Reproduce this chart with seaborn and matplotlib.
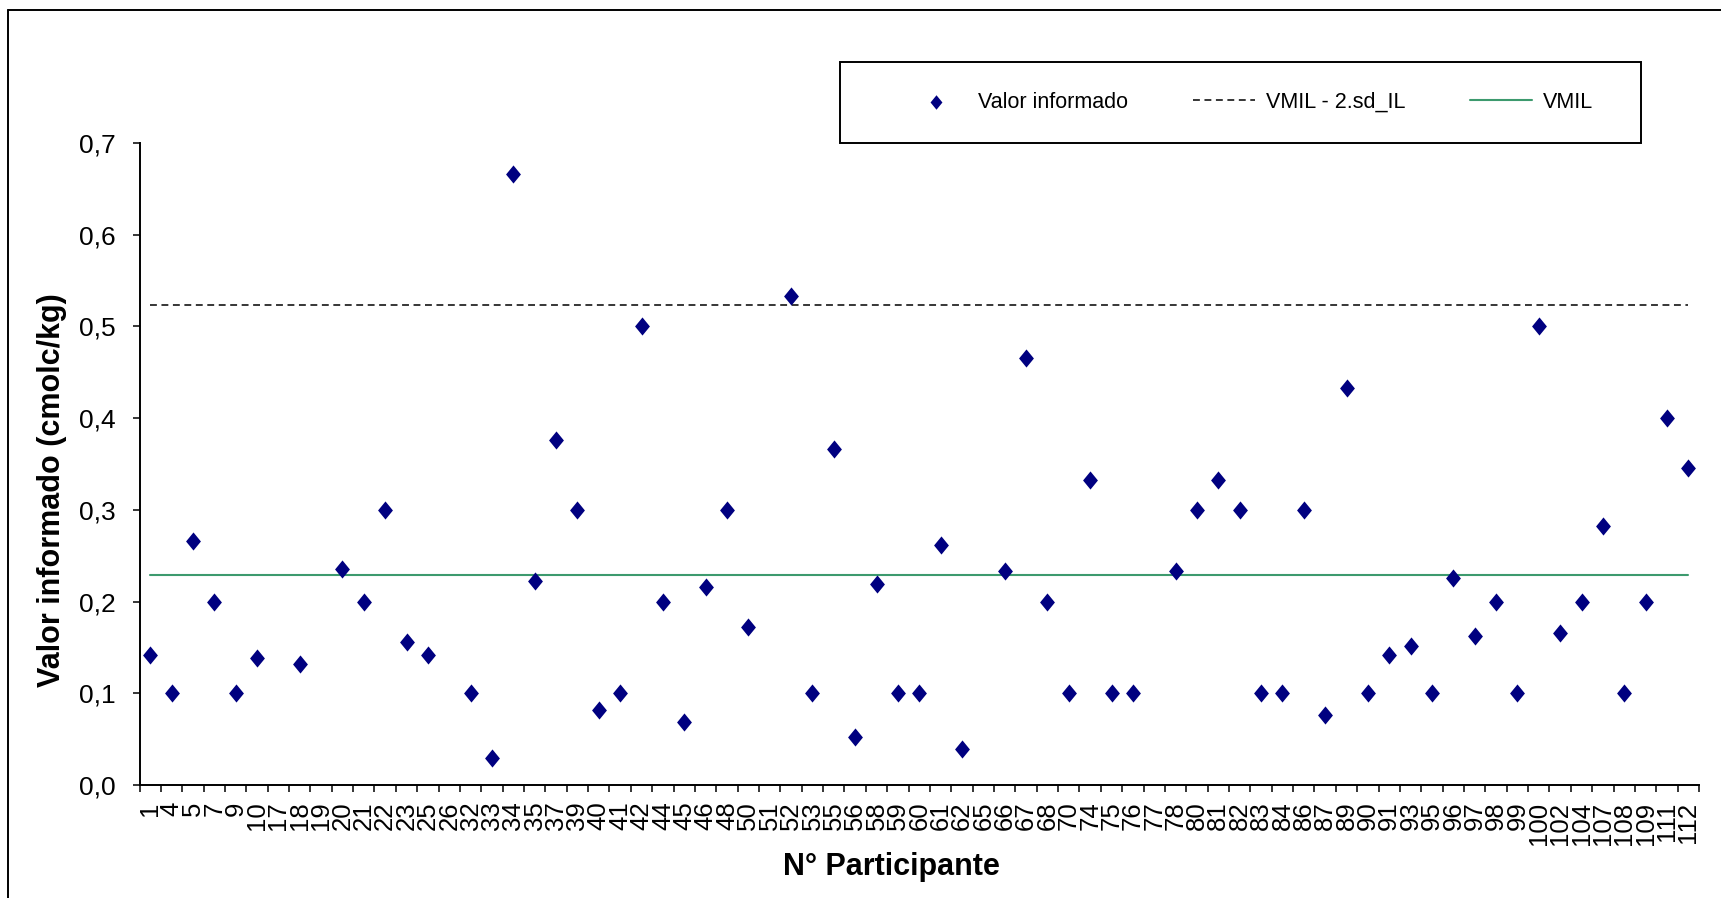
import numpy as np
import pandas as pd
import matplotlib
matplotlib.use("Agg")
import matplotlib.pyplot as plt
from matplotlib.path import Path
from matplotlib.lines import Line2D
from matplotlib.ticker import FuncFormatter, FixedLocator
import seaborn as sns

# Participant numbers (x categories)
participants = ["1", "4", "5", "7", "9", "10", "17", "18", "19", "20",
                "21", "22", "23", "25", "26", "32", "33", "34", "35", "37",
                "39", "40", "41", "42", "44", "45", "46", "48", "50", "51",
                "52", "53", "55", "56", "58", "59", "60", "61", "62", "65",
                "66", "67", "68", "70", "74", "75", "76", "77", "78", "80",
                "81", "82", "83", "84", "86", "87", "89", "90", "91", "93",
                "95", "96", "97", "98", "99", "100", "102", "104", "107", "108",
                "109", "111", "112"]

# Reported values (cmolc/kg); NaN = no value reported
reported = [0.142, 0.100, 0.266, 0.200, 0.100, 0.139, np.nan, 0.132, np.nan, 0.236,
            0.200, 0.300, 0.156, 0.142, np.nan, 0.100, 0.029, 0.666, 0.222, 0.376,
            0.300, 0.082, 0.100, 0.500, 0.200, 0.069, 0.216, 0.300, 0.172, np.nan,
            0.533, 0.100, 0.366, 0.052, 0.219, 0.100, 0.100, 0.262, 0.039, np.nan,
            0.233, 0.466, 0.200, 0.100, 0.333, 0.100, 0.100, np.nan, 0.233, 0.300,
            0.333, 0.300, 0.100, 0.100, 0.300, 0.076, 0.433, 0.100, 0.142, 0.152,
            0.100, 0.226, 0.162, 0.200, 0.100, 0.500, 0.166, 0.200, 0.282, 0.100,
            0.200, 0.400, 0.346]

# Reference levels
vmil = 0.229
vmil_limit = 0.523

y_ticks = [0.0, 0.1, 0.2, 0.3, 0.4, 0.5, 0.6, 0.7]

sns.set_theme(style="white")
plt.rcParams["font.family"] = ["Liberation Sans", "DejaVu Sans"]

W, H = 1721, 898
AX_L, AX_R, AX_T, AX_B = 139.5, 1699.0, 143.0, 785.0
fig = plt.figure(figsize=(W / 100, H / 100), dpi=100)
ax = fig.add_axes([AX_L / W, 1 - AX_B / H, (AX_R - AX_L) / W, (AX_B - AX_T) / H])

xpos = np.arange(len(participants))
df = pd.DataFrame({"pos": xpos, "participante": participants, "valor": reported})

# Diamond marker, slightly taller than wide
diamond = Path([(0, 1), (0.82, 0), (0, -1), (-0.82, 0), (0, 1)],
               [Path.MOVETO, Path.LINETO, Path.LINETO, Path.LINETO, Path.CLOSEPOLY])

sns.scatterplot(data=df, x="pos", y="valor", marker=diamond, s=170,
                color="#000080", linewidth=0, ax=ax, zorder=4,
                label="Valor informado")

ends = [xpos[0], xpos[-1]]
sns.lineplot(x=ends, y=[vmil_limit, vmil_limit], color="black", linewidth=1.1,
             ax=ax, label="VMIL - 2.sd_IL", zorder=3)
ax.lines[-1].set_dashes((4.5, 3))
sns.lineplot(x=ends, y=[vmil, vmil], color="#3d9a6e", linewidth=1.5,
             ax=ax, label="VMIL", zorder=3)

ax.set_xlim(-0.5, len(participants) - 0.5)
ax.set_ylim(0, 0.7)

# Axes styling
for side in ["top", "right"]:
    ax.spines[side].set_visible(False)
for side in ["left", "bottom"]:
    ax.spines[side].set_color("black")
    ax.spines[side].set_linewidth(1.4)

ax.set_yticks(y_ticks)
ax.yaxis.set_major_formatter(FuncFormatter(lambda v, p: f"{v:.1f}".replace(".", ",")))
ax.tick_params(axis="y", which="major", direction="out", length=5, width=1.1,
               color="black", pad=12, labelsize=19, labelcolor="black", left=True)

ax.set_xticks(xpos)
ax.set_xticklabels(participants, rotation=90)
ax.tick_params(axis="x", which="major", length=0, pad=12, labelsize=18.5,
               labelcolor="black", bottom=True)
ax.xaxis.set_minor_locator(FixedLocator(np.arange(-0.5, len(participants), 1.0)))
ax.tick_params(axis="x", which="minor", direction="out", length=5, width=1.1,
               color="black", bottom=True)

span_x = AX_R - AX_L
span_y = AX_B - AX_T
ax.set_xlabel("N° Participante", fontsize=22, fontweight="bold", color="black")
ax.xaxis.set_label_coords((891 - AX_L) / span_x, (AX_B - 867) / span_y)
ax.xaxis.label.set_va("center")
ax.set_ylabel("Valor informado (cmolc/kg)", fontsize=22, fontweight="bold", color="black")
ax.yaxis.set_label_coords((51.6 - AX_L) / span_x, (AX_B - 490) / span_y)
ax.yaxis.label.set_va("center")

ax.grid(False)

# Legend: entries without frame, boxed by a separate rectangle
handles, labels = ax.get_legend_handles_labels()
if ax.get_legend():
    ax.get_legend().remove()
leg = fig.legend(handles, labels, ncol=3, loc="center left",
                 bbox_to_anchor=(905 / W, 1 - 102 / H), frameon=False,
                 fontsize=15.5, handlelength=2.9, handletextpad=0.5,
                 columnspacing=3.0, borderpad=0, borderaxespad=0,
                 markerscale=0.8)
for t in leg.get_texts():
    t.set_color("black")

box = plt.Rectangle((840 / W, 1 - 143 / H), (1641 - 840) / W, (143 - 62) / H,
                    transform=fig.transFigure, fill=False, edgecolor="black",
                    linewidth=1.4)
fig.patches.append(box)

# Outer chart frame (left and top edges visible)
fig.add_artist(Line2D([7.5 / W, 7.5 / W], [0, 1 - 10 / H], transform=fig.transFigure,
                      color="black", linewidth=1.4))
fig.add_artist(Line2D([7.5 / W, 1], [1 - 10 / H, 1 - 10 / H], transform=fig.transFigure,
                      color="black", linewidth=1.4))

fig.savefig("out.png", dpi=100, facecolor="white")
